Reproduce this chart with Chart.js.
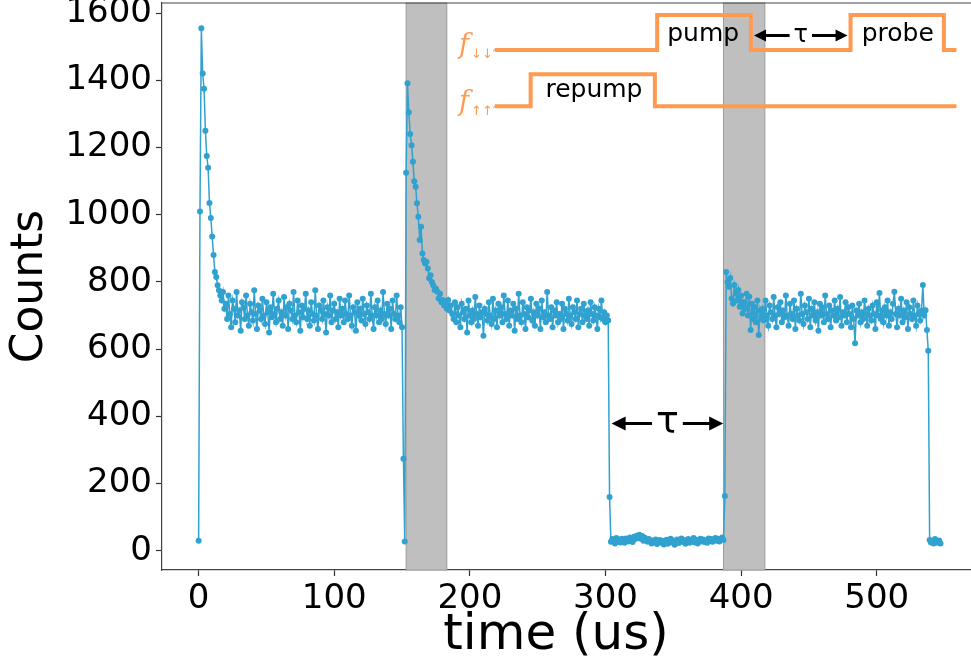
<!DOCTYPE html>
<html>
<head>
<meta charset="utf-8">
<script src="https://cdn.jsdelivr.net/npm/chart.js@4.4.1/dist/chart.umd.min.js"></script>
<style>
html, body { margin: 0; padding: 0; background: #fff; }
#wrap { width: 971px; height: 670px; }
</style>
</head>
<body>
<div id="wrap"><canvas id="chart" width="971" height="670"></canvas></div>
<script>
/* ================= DATA ================= */
const sampleStep = 1; // us between samples

// first pump pulse, t = 0 .. 152 us
const firstPulseStart = 0;
const firstPulseCounts = [
  30, 1010, 1555, 1420, 1375, 1250, 1175, 1140, 1035, 990,
  935, 880, 830, 815, 790, 775, 760, 745, 770, 720,
  735, 690, 760, 705, 665, 745, 720, 680, 770, 700,
  715, 655, 740, 725, 690, 760, 700, 670, 735, 710,
  685, 775, 705, 660, 730, 715, 690, 750, 700, 675,
  740, 710, 650, 725, 695, 765, 705, 680, 720, 745,
  690, 710, 670, 755, 700, 725, 660, 735, 715, 690,
  770, 700, 680, 745, 710, 655, 730, 695, 720, 765,
  690, 715, 670, 740, 705, 685, 775, 700, 660, 730,
  715, 690, 745, 705, 650, 725, 700, 760, 680, 715,
  735, 690, 710, 665, 750, 700, 720, 680, 745, 705,
  690, 760, 700, 670, 725, 710, 655, 740, 700, 720,
  685, 750, 705, 675, 730, 710, 690, 765, 700, 660,
  725, 700, 745, 680, 715, 690, 770, 705, 675, 735,
  700, 720, 660, 745, 705, 690, 760, 700, 680, 725,
  665, 274, 28
];

// second pulse, t = 153 .. 303 us
const secondPulseStart = 153;
const secondPulseCounts = [
  1125, 1391, 1305, 1240, 1207, 1158, 1100, 1083, 1034, 994,
  925, 964, 885, 865, 855, 860, 840, 811, 820, 800,
  790, 776, 780, 771, 751, 765, 740, 746, 730, 741,
  720, 746, 715, 730,
  705, 690, 740, 680, 725, 700, 665, 735, 710, 690,
  720, 650, 745, 700, 680, 715, 690, 755, 705, 670,
  730, 695, 710, 640, 720, 705, 685, 740, 700, 675,
  750, 690, 715, 665, 735, 700, 725, 680, 760, 705,
  690, 745, 670, 715, 700, 735, 655, 720, 690, 765,
  700, 680, 740, 705, 660, 725, 695, 715, 750, 685,
  710, 670, 735, 700, 720, 660, 745, 695, 710, 680,
  770, 700, 690, 725, 665, 715, 700, 740, 680, 705,
  690, 735, 660, 720, 705, 685, 750, 700, 675, 725,
  710, 690, 745, 665, 705, 720, 680, 735, 700, 690,
  715, 670, 740, 705, 685, 725, 700, 660, 720, 695,
  745, 690, 710, 680, 700,
  685, 160
];

// dark interval tau, t = 304 .. 387 us
const darkStart = 304;
const darkCounts = [
  27, 35, 30, 22, 38, 28, 33, 25, 36, 30,
  24, 37, 31, 28, 40, 33, 26, 42, 35, 45,
  38, 48, 36, 44, 30, 39, 33, 27, 35, 29,
  22, 31, 26, 34, 20, 28, 32, 24, 30, 19,
  27, 33, 21, 29, 36, 25, 31, 18, 28, 34,
  23, 30, 37, 26, 32, 21, 29, 35, 24, 31,
  27, 38, 25, 33, 22, 30, 36, 28, 34, 26,
  31, 24, 37, 29, 35, 27, 33, 38, 30, 36,
  28, 34, 40, 32
];

// probe pulse, t = 388 .. 538 us
const probeStart = 388;
const probeCounts = [
  163, 830, 800, 786, 812, 751, 736, 791, 766, 745,
  776, 726, 760, 706, 740, 720, 765, 700, 756, 657,
  735, 690, 725, 680, 745, 642, 715, 690,
  720, 685, 745, 700, 670, 730, 710, 690, 755, 700,
  665, 725, 705, 740, 680, 715, 695, 760, 700, 670,
  735, 705, 690, 745, 660, 720, 700, 685, 765, 705,
  675, 730, 710, 690, 750, 665, 720, 700, 740, 685,
  710, 655, 735, 700, 725, 680, 760, 705, 690, 730,
  665, 715, 700, 745, 685, 720, 695, 755, 670, 710,
  700, 740, 680, 725, 705, 665, 730, 690, 618, 715,
  700, 735, 680, 710, 690, 745, 705, 670, 720, 700,
  685, 730, 705, 660, 740, 700, 767, 690, 715, 680,
  725, 700, 745, 670, 710, 690, 735, 771, 705, 665,
  720, 700, 750, 680, 715, 695, 740, 660, 725, 705,
  690, 745, 700, 670, 730, 705, 685, 715,
  791, 700, 716, 657, 595
];

// after probe, t = 539 .. 547 us
const tailStart = 539;
const tailCounts = [32, 25, 30, 22, 35, 28, 24, 31, 22];

const xTickValues = [0, 100, 200, 300, 400, 500];
const yTickValues = [0, 200, 400, 600, 800, 1000, 1200, 1400, 1600];

// shaded windows (us)
const bandStarts = [153, 387];
const bandEnds = [183, 417.5];

// pulse-sequence inset, in axis units
const downLineTimes  = [218.4, 338.1, 338.1, 407.2, 407.2, 480.7, 480.7, 549.5, 549.5, 558.8];
const downLineLevels = [1490, 1490, 1594, 1594, 1490, 1490, 1594, 1594, 1490, 1490];
const upLineTimes    = [218.4, 244.8, 244.8, 336.4, 336.4, 558.8];
const upLineLevels   = [1323, 1323, 1418, 1418, 1323, 1323];

/* ================= BUILD POINTS ================= */
const segments = [
  { start: firstPulseStart, counts: firstPulseCounts },
  { start: secondPulseStart, counts: secondPulseCounts },
  { start: darkStart, counts: darkCounts },
  { start: probeStart, counts: probeCounts },
  { start: tailStart, counts: tailCounts }
];
const points = [];
segments.forEach(seg => {
  seg.counts.forEach((c, i) => points.push({ x: seg.start + i * sampleStep, y: c }));
});

/* ================= DRAW HELPERS ================= */
const ORANGE = "#ff9a52";
const BLUE = "#31a1cf";

function arrowHead(ctx, tipX, y, dir, len, half) {
  ctx.beginPath();
  ctx.moveTo(tipX, y);
  ctx.lineTo(tipX - dir * len, y - half);
  ctx.lineTo(tipX - dir * len, y + half);
  ctx.closePath();
  ctx.fill();
}

// double arrow with a gap in the middle for a label
function tauArrow(ctx, x0, x1, y, label, font, lw, len, half) {
  ctx.font = font;
  const w = ctx.measureText(label).width;
  const mid = (x0 + x1) / 2;
  const gap = w / 2 + 4;
  ctx.strokeStyle = "#000";
  ctx.fillStyle = "#000";
  ctx.lineWidth = lw;
  ctx.beginPath();
  ctx.moveTo(x0 + len - 1, y); ctx.lineTo(mid - gap, y);
  ctx.moveTo(mid + gap, y); ctx.lineTo(x1 - len + 1, y);
  ctx.stroke();
  arrowHead(ctx, x0, y, -1, len, half);
  arrowHead(ctx, x1, y, 1, len, half);
  ctx.textAlign = "center";
  ctx.textBaseline = "middle";
  ctx.fillText(label, mid, y);
}

function stepLine(ctx, xs, ys, sx, sy) {
  ctx.beginPath();
  xs.forEach((t, i) => {
    const px = sx.getPixelForValue(t), py = sy.getPixelForValue(ys[i]);
    if (i === 0) ctx.moveTo(px, py); else ctx.lineTo(px, py);
  });
  ctx.stroke();
}

function fLabel(ctx, x, y, arrows) {
  ctx.fillStyle = ORANGE;
  ctx.textAlign = "left";
  ctx.textBaseline = "alphabetic";
  ctx.font = "italic 27px 'DejaVu Serif'";
  ctx.fillText("f", x, y);
  ctx.font = "13px 'DejaVu Sans'";
  ctx.fillText(arrows, x + 12, y + 5);
}

/* ================= PLUGIN ================= */
const overlayPlugin = {
  id: "overlay",
  beforeDatasetsDraw(chart) {
    const { ctx, chartArea: a, scales: { x, y } } = chart;
    ctx.save();
    bandStarts.forEach((s, i) => {
      const x0 = x.getPixelForValue(s), x1 = x.getPixelForValue(bandEnds[i]);
      ctx.fillStyle = "#bfbfbf";
      ctx.fillRect(x0, a.top, x1 - x0, a.bottom - a.top);
      ctx.strokeStyle = "#9c9c9c";
      ctx.lineWidth = 1;
      ctx.strokeRect(x0, a.top, x1 - x0, a.bottom - a.top);
    });
    ctx.restore();
  },
  afterDatasetsDraw(chart) {
    const { ctx, chartArea: a, scales: { x, y } } = chart;
    ctx.save();
    // inset pulse sequence
    ctx.strokeStyle = ORANGE;
    ctx.lineWidth = 4;
    ctx.lineJoin = "miter";
    stepLine(ctx, downLineTimes, downLineLevels, x, y);
    stepLine(ctx, upLineTimes, upLineLevels, x, y);

    ctx.fillStyle = "#000";
    ctx.font = "25px 'DejaVu Sans'";
    ctx.textAlign = "center";
    ctx.textBaseline = "middle";
    ctx.fillText("pump", x.getPixelForValue(372), y.getPixelForValue(1536));
    ctx.fillText("probe", x.getPixelForValue(515.5), y.getPixelForValue(1536));
    ctx.fillText("repump", x.getPixelForValue(291.5), y.getPixelForValue(1369));

    tauArrow(ctx, x.getPixelForValue(409.5), x.getPixelForValue(478.5), y.getPixelForValue(1533),
      "τ", "24px 'DejaVu Sans'", 3, 12, 6);

    fLabel(ctx, x.getPixelForValue(192), y.getPixelForValue(1480), "↓↓′");
    fLabel(ctx, x.getPixelForValue(192), y.getPixelForValue(1313), "↑↑′");

    // tau between pump end and probe start
    tauArrow(ctx, x.getPixelForValue(304.5), x.getPixelForValue(386.8), y.getPixelForValue(379),
      "τ", "38px 'DejaVu Sans'", 3, 14, 7);

    // top spine
    ctx.strokeStyle = "#444";
    ctx.lineWidth = 1.2;
    ctx.beginPath();
    ctx.moveTo(a.left, a.top);
    ctx.lineTo(a.right, a.top);
    ctx.stroke();

    // x axis title (sits a little left of the axis centre in the original)
    ctx.fillStyle = "#000";
    ctx.font = "50px 'DejaVu Sans'";
    ctx.textAlign = "center";
    ctx.textBaseline = "middle";
    ctx.fillText(xTitle, 556, 636);
    ctx.restore();
  }
};

/* ================= CHART ================= */
const xTitle = "time (us)";
const tickFont = { family: "'DejaVu Sans'", size: 34 };

new Chart(document.getElementById("chart"), {
  type: "line",
  data: {
    datasets: [{
      data: points,
      borderColor: BLUE,
      backgroundColor: BLUE,
      borderWidth: 1.5,
      pointRadius: 3,
      pointBorderWidth: 0,
      pointBackgroundColor: BLUE,
      tension: 0
    }]
  },
  options: {
    responsive: false,
    devicePixelRatio: 1,
    animation: false,
    layout: { autoPadding: false, padding: { top: 3, right: 0, left: 0, bottom: 0 } },
    plugins: { legend: { display: false }, tooltip: { enabled: false } },
    scales: {
      x: {
        type: "linear",
        min: -27,
        max: 569.5,
        afterBuildTicks: s => { s.ticks = xTickValues.map(v => ({ value: v })); },
        afterFit: s => { s.height = 100; s.paddingLeft = 0; s.paddingRight = 0; },
        ticks: { font: tickFont, color: "#000", padding: 3, maxRotation: 0, callback: v => String(v) },
        grid: { display: true, drawOnChartArea: false, drawTicks: true, tickLength: 6, color: "#333", tickWidth: 1.2 },
        border: { display: true, color: "#444", width: 1.2 }
      },
      y: {
        min: -57,
        max: 1630,
        afterBuildTicks: s => { s.ticks = yTickValues.map(v => ({ value: v })); },
        afterFit: s => { s.width = 162; s.paddingTop = 0; s.paddingBottom = 0; },
        ticks: { font: tickFont, color: "#000", padding: 4, callback: v => String(v) },
        grid: { display: true, drawOnChartArea: false, drawTicks: true, tickLength: 6, color: "#333", tickWidth: 1.2 },
        border: { display: true, color: "#444", width: 1.2 },
        title: { display: true, text: "Counts", color: "#000", font: { family: "'DejaVu Sans'", size: 44 }, padding: { top: 4, bottom: 0 } }
      }
    }
  },
  plugins: [overlayPlugin]
});
</script>
</body>
</html>
